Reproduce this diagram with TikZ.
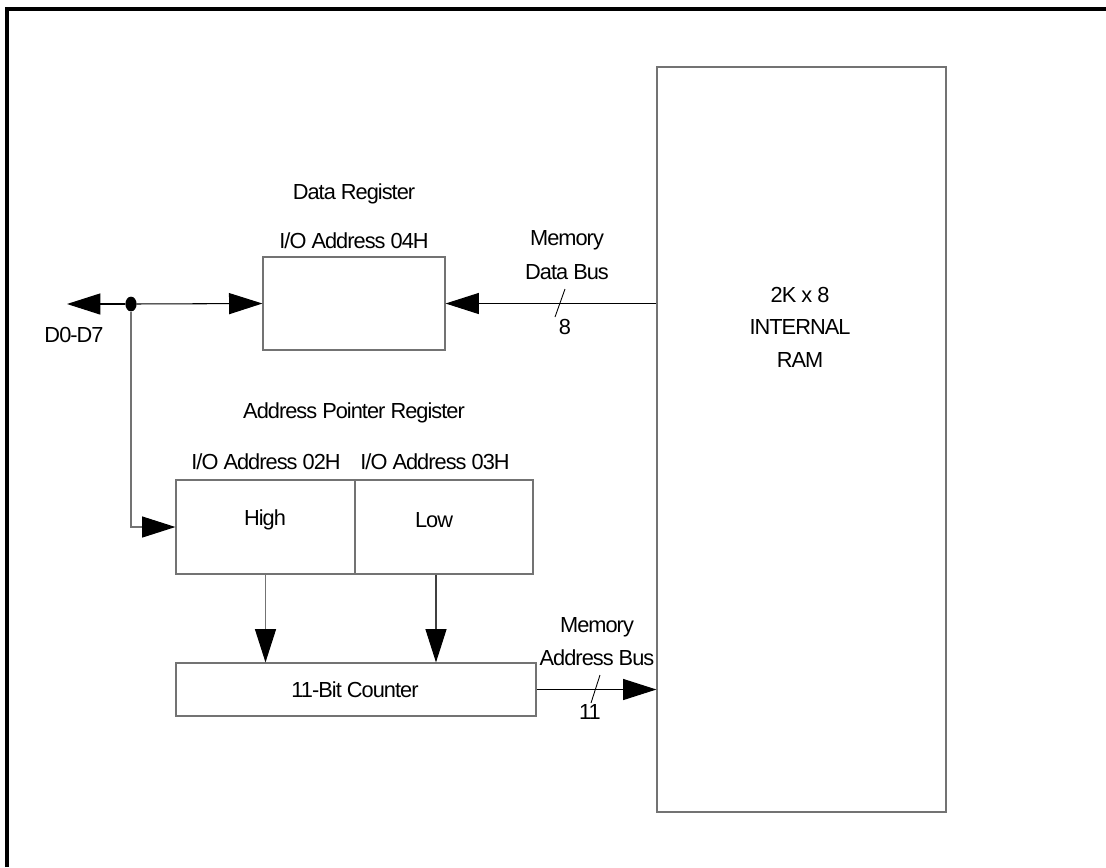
\documentclass[tikz,border=0pt]{standalone}
\usepackage{fontspec}
\setmainfont{Liberation Sans}[LetterSpace=-4.5]
\usetikzlibrary{arrows.meta,calc,shapes.geometric}

\tikzset{
    box/.style={draw=black!55, line width=0.7pt, rectangle, inner sep=0pt},
    bus/.style={line width=0.6pt, -{Triangle[length=19pt,width=12pt,black]}},
    lbl/.style={inner sep=0pt, font=\fontsize{12.4}{14}\selectfont},
}

\begin{document}
\begin{tikzpicture}[x=0.02cm,y=-0.02cm]
    \useasboundingbox (0,0) rectangle (1106,867);
    \draw[line width=2.2pt] (7,867) -- (7,9) -- (1106,9);

    % registers and memory
    \node[box, minimum width=3.64cm, minimum height=1.86cm] (datareg) at (354,303.5) {};
    \node[box, minimum width=3.58cm, minimum height=1.88cm] (high) at (265.5,527) {};
    \node[box, minimum width=3.56cm, minimum height=1.88cm] (low) at (444,527) {};
    \node[box, minimum width=7.2cm, minimum height=1.06cm] (counter) at (356,689.5) {};
    \node[box, minimum width=5.78cm, minimum height=14.9cm] (ram) at (801.5,439.5) {};

    \node[lbl] (dr1) at (354,194) {Data Register};
    \node[lbl] (dr2) at (354,241) {I/O Address 04H};
    \node[lbl] (ap) at (354,413) {Address Pointer Register};
    \node[lbl] (ap1) at (266,462) {I/O Address 02H};
    \node[lbl] (ap2) at (435,462) {I/O Address 03H};
    \node[lbl] (hi) at (265,520) {High};
    \node[lbl] (lo) at (434,520) {Low};
    \node[lbl] (cnt) at (355,690) {11-Bit Counter};
    \node[lbl] (r1) at (800,295) {2K x 8};
    \node[lbl] (r2) at (800,327) {INTERNAL};
    \node[lbl] (r3) at (800,360) {RAM};

    % data lines
    \node[fill, ellipse, inner sep=0pt, minimum width=6.4pt, minimum height=8.4pt] (dot) at (131,304) {};
    \coordinate (d0) at (67,304);
    \node[lbl] (dd) at (74,335) {D0-D7};
    \draw[bus] (dot) -- (d0);
    \draw[bus] (dot) -- (datareg.west);
    \draw[bus, draw=black!55] (dot.south) |- (high.west);

    % memory data bus
    \draw[bus] (ram.west |- datareg.east) -- (datareg.east);
    \draw[line width=0.5pt] (565,289) -- (555,317);
    \node[lbl] (md1) at (567,240) {Memory};
    \node[lbl] (md2) at (567,272) {Data Bus};
    \node[lbl] (md3) at (565,327) {8};

    % pointer to counter
    \draw[bus, draw=black!55] (high.south) -- (high.south |- counter.north);
    \draw[bus, draw=black!75] ([xshift=-0.16cm]low.south) -- ([xshift=-0.16cm]low.south |- counter.north);

    % memory address bus
    \draw[bus] (counter.east) -- (counter.east -| ram.west);
    \draw[line width=0.5pt] (600,675) -- (591,703);
    \node[lbl] (ma1) at (597,627) {Memory};
    \node[lbl] (ma2) at (597,658) {Address Bus};
    \node[lbl] (ma3) at (590,712) {11};
\end{tikzpicture}
\end{document}
